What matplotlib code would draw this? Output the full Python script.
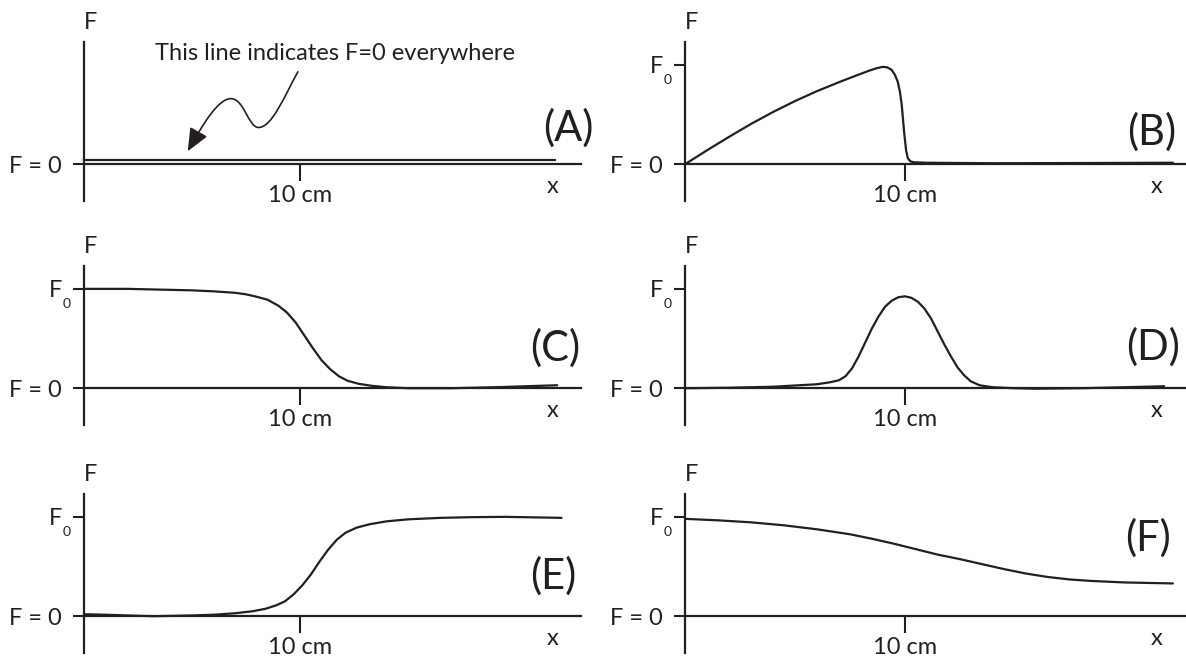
import matplotlib
matplotlib.use('Agg')
import matplotlib.pyplot as plt
from matplotlib.path import Path
from matplotlib.patches import FancyArrowPatch
from matplotlib.transforms import offset_copy

plt.rcParams['font.family'] = ['Lato', 'DejaVu Sans']

# ---- data (x in cm, F in units of F0) ----
a_x = [0, 21.8]
a_F = [0, 0]

b_x = [0, 1, 2, 3, 4, 5, 6, 7, 7.7, 8.36, 8.7, 9.0, 9.2, 9.4, 9.55, 9.68, 9.78, 9.86, 9.92, 9.98,
       10.06, 10.14, 10.25, 10.4, 11, 14, 18, 22.2]
b_F = [0, 0.14, 0.275, 0.405, 0.525, 0.635, 0.735, 0.825, 0.885, 0.94, 0.965, 0.98, 0.975, 0.95, 0.90,
       0.83, 0.73, 0.60, 0.45, 0.30, 0.14, 0.06, 0.03, 0.02, 0.015, 0.01, 0.012, 0.015]

c_x = [0, 2, 4, 5, 6, 7, 7.5, 8, 8.5, 9, 9.4, 9.8, 10.2, 10.6, 11.0, 11.4, 11.8, 12.2, 12.7, 13.3,
       14, 15, 17, 19, 21.9]
c_F = [1.0, 1.0, 0.99, 0.985, 0.975, 0.96, 0.945, 0.92, 0.89, 0.83, 0.76, 0.66, 0.53, 0.40, 0.28,
       0.19, 0.12, 0.075, 0.045, 0.025, 0.01, 0.0, 0.0, 0.01, 0.03]

d_x = [0, 2, 4, 6, 6.6, 7.0, 7.3, 7.6, 7.9, 8.2, 8.5, 8.8, 9.1, 9.4, 9.7, 10.0, 10.3, 10.6, 10.9,
       11.2, 11.5, 11.8, 12.1, 12.4, 12.7, 13.0, 13.4, 14, 15, 16, 18, 20, 21.8]
d_F = [0.0, 0.005, 0.015, 0.04, 0.06, 0.08, 0.12, 0.20, 0.32, 0.46, 0.60, 0.72, 0.82, 0.88, 0.915,
       0.925, 0.91, 0.87, 0.80, 0.70, 0.57, 0.44, 0.32, 0.21, 0.13, 0.07, 0.03, 0.01, 0.0, -0.005,
       0.0, 0.01, 0.02]

e_x = [0, 1, 2, 3.2, 5, 6, 7, 7.8, 8.4, 8.9, 9.3, 9.7, 10.1, 10.5, 10.9, 11.3, 11.7, 12.1, 12.6,
       13.2, 14, 15, 16.5, 18, 19.5, 22.1]
e_F = [0.02, 0.015, 0.008, 0.0, 0.008, 0.015, 0.03, 0.05, 0.075, 0.11, 0.15, 0.22, 0.31, 0.42,
       0.55, 0.67, 0.77, 0.84, 0.89, 0.925, 0.955, 0.975, 0.99, 0.997, 1.0, 0.99]

f_x = [0, 1.5, 3, 4.5, 6, 7.5, 8.5, 9.5, 10.5, 11.5, 12.5, 13.5, 14.5, 15.5, 16.5, 17.5, 18.5, 20, 22.2]
f_F = [0.98, 0.965, 0.945, 0.915, 0.875, 0.825, 0.78, 0.73, 0.675, 0.62, 0.575, 0.525, 0.475, 0.43,
       0.395, 0.37, 0.355, 0.34, 0.33]

panel_names = ['(A)', '(B)', '(C)', '(D)', '(E)', '(F)']
xtick_label = '10 cm'
note_text = 'This line indicates F=0 everywhere'

# curved pointer in panel A (data coords of panel A)
note_path = [(9.9, 0.93), (9.3, 0.70), (8.7, 0.36), (8.05, 0.37),
             (7.6, 0.38), (7.4, 0.66), (6.8, 0.66),
             (6.2, 0.66), (5.5, 0.40), (4.8, 0.13)]

FS = 17
INK = '#231f20'
W, H = 1186, 662

fig = plt.figure(figsize=(W / 100, H / 100), dpi=100)


def add_panel(left, top, width, height):
    return fig.add_axes([left / W, 1 - (top + height) / H, width / W, height / H])


def setup_panel(ax, xmax, show_f0=True):
    ax.set_xlim(0, xmax)
    ax.set_ylim(-0.37, 1.23)
    ax.patch.set_alpha(0)
    for s in ['top', 'right']:
        ax.spines[s].set_visible(False)
    ax.spines['bottom'].set_position(('data', 0))
    for s in ['left', 'bottom']:
        ax.spines[s].set_linewidth(1.6)
        ax.spines[s].set_color(INK)
    ax.set_xticks([10])
    ax.set_xticklabels([xtick_label])
    ax.tick_params(axis='x', length=12, width=1.5, pad=3, labelsize=FS, color=INK, labelcolor=INK)
    if show_f0:
        ax.set_yticks([0, 1])
        ax.set_yticklabels(['F = 0', 'F'])
        # subscript of F0 sits below the baseline in the original
        ax.annotate('0', xy=(0, 1), xycoords='data', xytext=(-12.5, -11), textcoords='offset points',
                    fontsize=10, ha='center', va='center', color=INK)
    else:
        ax.set_yticks([0])
        ax.set_yticklabels(['F = 0'])
    ax.tick_params(axis='y', length=8, width=1.5, pad=8, labelsize=FS, color=INK, labelcolor=INK)
    ax.annotate('F', xy=(0, 1), xycoords='axes fraction', xytext=(4.5, 14), textcoords='offset points',
                ha='center', va='center', fontsize=FS, color=INK)
    ax.annotate('x', xy=(xmax - 1.3, 0), xycoords='data', xytext=(0, -16), textcoords='offset points',
                ha='center', va='center', fontsize=FS, color=INK)


tops = [42, 266, 494]
lefts = [84, 685]
widths = [497, 500]
xmaxs = [23, 22.75]
panel_h = 159

curves = [(a_x, a_F), (b_x, b_F), (c_x, c_F), (d_x, d_F), (e_x, e_F), (f_x, f_F)]
letter_pos = [(23.56, 0.36), (22.36, 0.32), (22.96, 0.40), (22.5, 0.41), (22.8, 0.40), (22.1, 0.79)]

axes = []
for i in range(6):
    row, col = divmod(i, 2)
    ax = add_panel(lefts[col], tops[row], widths[col], panel_h)
    setup_panel(ax, xmaxs[col], show_f0=(i != 0))
    xs, Fs = curves[i]
    if i == 0:
        # F=0 line drawn just above the axis so it stays visible
        tr = offset_copy(ax.transData, fig=fig, y=4, units='dots')
        ax.plot(xs, Fs, color=INK, lw=1.6, transform=tr, clip_on=False)
    else:
        ax.plot(xs, Fs, color=INK, lw=1.6, clip_on=False, zorder=3,
                solid_joinstyle='round', solid_capstyle='round')
    lx, ly = letter_pos[i]
    ax.text(lx, ly, panel_names[i], ha='right', va='center', fontsize=30, color=INK, clip_on=False)
    axes.append(ax)

# annotation in panel A
axA = axes[0]
axA.text(11.6, 1.11, note_text, ha='center', va='center', fontsize=FS, color=INK)
codes = [Path.MOVETO] + [Path.CURVE4] * 9
arrow = FancyArrowPatch(path=Path(note_path, codes), arrowstyle='-|>,head_length=0.7,head_width=0.3',
                        mutation_scale=20, color=INK, lw=1.2)
axA.add_patch(arrow)

fig.savefig('out.png', dpi=100)
